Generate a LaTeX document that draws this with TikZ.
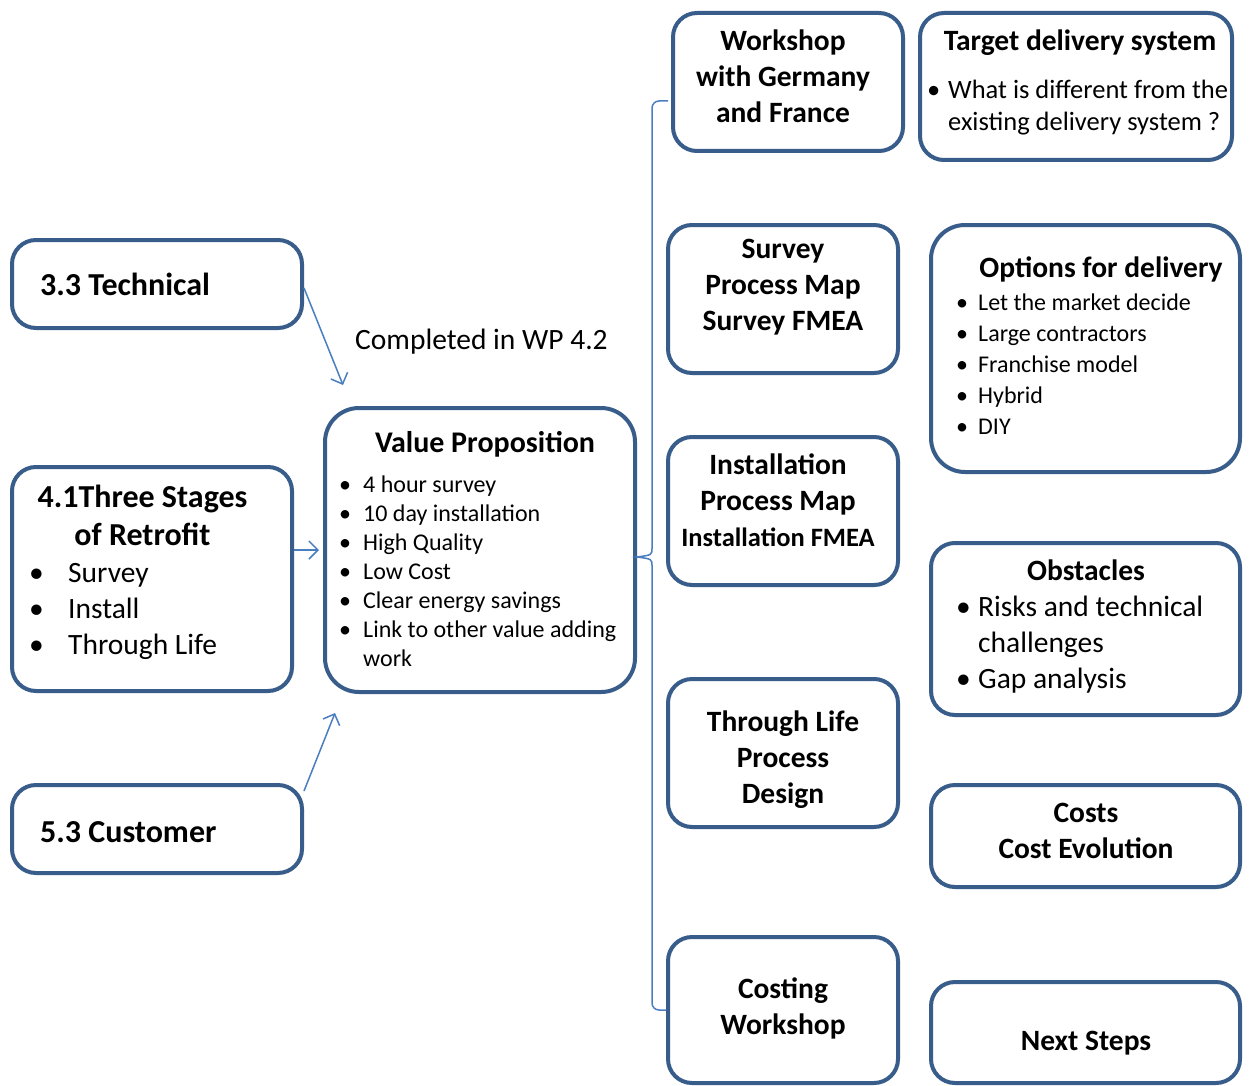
\documentclass[tikz,border=0pt]{standalone}
\usepackage{fontspec}
\setmainfont{Carlito}
\usetikzlibrary{arrows.meta}
\definecolor{boxblue}{RGB}{56,93,138}
\definecolor{linkblue}{RGB}{74,126,192}
\newcommand{\dotcol}[1]{\makebox[#1][l]{\hspace*{-2pt}\textbullet}}

\begin{document}
\begin{tikzpicture}[x=1pt,y=-1pt,
    box/.style={draw=boxblue,line width=4pt,rounded corners=24pt,fill=white,inner sep=0pt},
    ttl/.style={inner sep=0pt,anchor=north,yshift=-2pt,font=\fontsize{29.5}{36}\selectfont\bfseries},
    lst/.style={inner sep=0pt,anchor=north west,yshift=-2pt},
    link/.style={draw=linkblue,line width=1.5pt},
    arr/.style={link,-{Straight Barb[length=9pt,width=18pt]}}]
    \fill[white] (0,0) rectangle (1252,1086);
    \useasboundingbox (0,0) rectangle (1252,1086);
    % left column
    \node[box,minimum width=290pt,minimum height=88pt] (tech) at (157,284) {};
    \node[box,minimum width=280pt,minimum height=224pt] (stages) at (152,579) {};
    \node[box,minimum width=290pt,minimum height=88pt] (cust) at (157,829) {};
    \node[box,rounded corners=34pt,minimum width=310pt,minimum height=284pt] (vp) at (480,550) {};
    % middle column
    \node[box,minimum width=230pt,minimum height=138pt] (work) at (788,82) {};
    \node[box,minimum width=230pt,minimum height=148pt] (survey) at (783,299) {};
    \node[box,minimum width=230pt,minimum height=148pt] (install) at (783,511) {};
    \node[box,minimum width=230pt,minimum height=148pt] (life) at (783,753) {};
    \node[box,minimum width=230pt,minimum height=146pt] (costing) at (783,1010) {};
    % right column
    \node[box,minimum width=312pt,minimum height=147pt] (target) at (1076,86.5) {};
    \node[box,rounded corners=34pt,minimum width=309pt,minimum height=247pt] (options) at (1085.5,348.5) {};
    \node[box,minimum width=309pt,minimum height=172pt] (obst) at (1085.5,629) {};
    \node[box,minimum width=309pt,minimum height=102pt] (costs) at (1085.5,836) {};
    \node[box,minimum width=309pt,minimum height=101pt] (next) at (1085.5,1032.5) {};

    % texts
    \node[ttl,anchor=north west,font=\fontsize{32}{36}\selectfont\bfseries] (techT) at (40,267.8) {\begin{tabular}{@{}l@{}}3.3 Technical\end{tabular}};
    \node[ttl,font=\fontsize{32}{38}\selectfont\bfseries] (stagesT) at (142.5,478.4) {\begin{tabular}{@{}c@{}}4.1Three Stages\\of Retrofit\end{tabular}};
    \node[lst,font=\fontsize{29.5}{36}\selectfont] (stagesL) at (31,554.8) {\begin{tabular}{@{}l@{}}\dotcol{37pt}Survey\\\dotcol{37pt}Install\\\dotcol{37pt}Through Life\end{tabular}};
    \node[ttl,anchor=north west,font=\fontsize{32}{36}\selectfont\bfseries] (custT) at (40,814.8) {\begin{tabular}{@{}l@{}}5.3 Customer\end{tabular}};
    \node[lst,font=\fontsize{29.5}{34}\selectfont] (done) at (355,323.2) {\begin{tabular}{@{}l@{}}Completed in WP 4.2\end{tabular}};
    \node[ttl,font=\fontsize{30}{36}\selectfont\bfseries] (vpT) at (485,424.8) {\begin{tabular}{@{}c@{}}Value Proposition\end{tabular}};
    \node[lst,font=\fontsize{24}{29}\selectfont] (vpL) at (341,469.7) {\begin{tabular}{@{}l@{}}
        \dotcol{22pt}4 hour survey\\\dotcol{22pt}10 day installation\\\dotcol{22pt}High Quality\\
        \dotcol{22pt}Low Cost\\\dotcol{22pt}Clear energy savings\\
        \dotcol{22pt}Link to other value adding\\\hspace*{22pt}work\end{tabular}};
    \node[ttl] (workT) at (783,22.8) {\begin{tabular}{@{}c@{}}Workshop\\with Germany\\and France\end{tabular}};
    \node[ttl] (surveyT) at (783,230.8) {\begin{tabular}{@{}c@{}}Survey\\Process Map\\Survey FMEA\end{tabular}};
    \node[ttl] (installT) at (778,446.8) {\begin{tabular}{@{}c@{}}Installation\\Process Map\\{\fontsize{26.5}{32}\selectfont Installation FMEA}\end{tabular}};
    \node[ttl] (lifeT) at (783,703.8) {\begin{tabular}{@{}c@{}}Through Life\\Process\\Design\end{tabular}};
    \node[ttl] (costingT) at (783,970.8) {\begin{tabular}{@{}c@{}}Costing\\Workshop\end{tabular}};
    \node[ttl] (targetT) at (1080,22.8) {\begin{tabular}{@{}c@{}}Target delivery system\end{tabular}};
    \node[lst,font=\fontsize{26.5}{32}\selectfont] (targetL) at (929,73.6) {\begin{tabular}{@{}l@{}}
        \dotcol{19pt}What is different from the\\\hspace*{19pt}existing delivery system ?\end{tabular}};
    \node[ttl] (optionsT) at (1101,249.8) {\begin{tabular}{@{}c@{}}Options for delivery\end{tabular}};
    \node[lst,font=\fontsize{24}{31}\selectfont] (optionsL) at (958,286.3) {\begin{tabular}{@{}l@{}}
        \dotcol{20pt}Let the market decide\\\dotcol{20pt}Large contractors\\\dotcol{20pt}Franchise model\\
        \dotcol{20pt}Hybrid\\\dotcol{20pt}DIY\end{tabular}};
    \node[ttl] (obstT) at (1086,552.8) {\begin{tabular}{@{}c@{}}Obstacles\end{tabular}};
    \node[lst,font=\fontsize{29.5}{36}\selectfont] (obstL) at (958,588.8) {\begin{tabular}{@{}l@{}}
        \dotcol{20pt}Risks and technical\\\hspace*{20pt}challenges\\\dotcol{20pt}Gap analysis\end{tabular}};
    \node[ttl] (costsT) at (1086,794.8) {\begin{tabular}{@{}c@{}}Costs\\Cost Evolution\end{tabular}};
    \node[ttl] (nextT) at (1086,1022.8) {\begin{tabular}{@{}c@{}}Next Steps\end{tabular}};

    % connectors
    \coordinate (a1) at (343,385);
    \coordinate (a3) at (335,713);
    \draw[arr] ([yshift=-4pt]tech.east) -- (a1);
    \draw[arr] (stages.east |- vp.west) -- ([xshift=-4pt]vp.west);
    \draw[arr] ([yshift=-8pt]cust.north east) -- (a3);
    % bracket
    \coordinate (tip) at (637,557);
    \draw[link,rounded corners=7pt] (668,101) -- (652,101) -- (652,548);
    \draw[link] (652,548) .. controls (652,555) .. (tip) .. controls (652,559) .. (652,566);
    \draw[link,rounded corners=7pt] (652,566) -- (652,1010) -- (666,1010);
\end{tikzpicture}
\end{document}
